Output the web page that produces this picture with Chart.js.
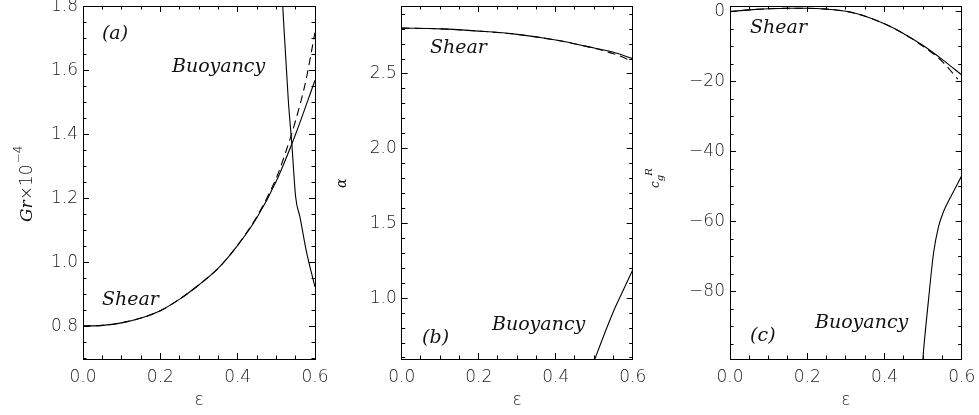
<!DOCTYPE html>
<html>
<head>
<meta charset="utf-8">
<script src="https://cdn.jsdelivr.net/npm/chart.js@4.4.1/dist/chart.umd.min.js"></script>
<style>
  html, body { margin: 0; padding: 0; background: #fff; overflow: hidden; }
  body { width: 979px; height: 415px; position: relative; }
  .panel { position: absolute; top: -20px; }
  .ytitle { position: absolute; transform-origin: 0 0; transform: rotate(-90deg); white-space: nowrap; color: #111; }
  .ytitle i { font-family: 'DejaVu Serif', serif; }
  .ytitle .up { font-size: 12px; position: relative; top: -10px; margin-left: 1px; }
  #status { position: absolute; left: 0; top: 0; width: 2px; height: 2px; margin: 0; font: 1px monospace; color: #fff; background: rgba(255,255,255,0.9); white-space: pre; overflow: hidden; z-index: 5; }
</style>
</head>
<body>
<div class="panel" style="left:0px"><canvas id="panelA" width="345" height="435"></canvas></div>
<div class="panel" style="left:325px"><canvas id="panelB" width="338" height="435"></canvas></div>
<div class="panel" style="left:640px"><canvas id="panelC" width="352" height="435"></canvas></div>
<pre id="status"></pre>
<script>
// (a) Gr x 1e-4 against epsilon
const epsShearA = [0, 0.05, 0.1, 0.15, 0.2, 0.25, 0.3, 0.35, 0.4, 0.45, 0.5, 0.55, 0.6];
const grShear = [0.803, 0.805, 0.813, 0.828, 0.851, 0.887, 0.932, 0.984, 1.055, 1.142, 1.256, 1.403, 1.571];
const epsDashA = [0, 0.05, 0.1, 0.15, 0.2, 0.25, 0.3, 0.35, 0.4, 0.45, 0.5, 0.525, 0.55, 0.575, 0.6];
const grShearDash = [0.803, 0.805, 0.813, 0.828, 0.851, 0.887, 0.932, 0.984, 1.056, 1.146, 1.266, 1.349, 1.446, 1.562, 1.72];
const epsBuoyA = [0.5165, 0.531, 0.54, 0.55, 0.561, 0.578, 0.6];
const grBuoy = [1.803, 1.508, 1.373, 1.206, 1.144, 1.035, 0.925];

// (b) alpha against epsilon
const epsShearB = [0, 0.1, 0.2, 0.3, 0.4, 0.5, 0.55, 0.6];
const alphaShear = [2.807, 2.802, 2.787, 2.765, 2.727, 2.674, 2.645, 2.603];
const alphaShearDash = [2.807, 2.802, 2.787, 2.765, 2.727, 2.672, 2.636, 2.585];
const epsBuoyB = [0.5018, 0.524, 0.55, 0.576, 0.6];
const alphaBuoy = [0.593, 0.744, 0.911, 1.056, 1.189];

// (c) group velocity against epsilon
const epsShearC = [0, 0.05, 0.1, 0.15, 0.2, 0.25, 0.3, 0.35, 0.4, 0.45, 0.5, 0.55, 0.6];
const cgShear = [0, 0.5, 0.8, 0.95, 0.95, 0.7, 0.1, -1.3, -3.5, -6.3, -9.7, -13.7, -18.1];
const epsDashC = [0, 0.05, 0.1, 0.15, 0.2, 0.25, 0.3, 0.35, 0.4, 0.45, 0.5, 0.55, 0.59];
const cgShearDash = [0, 0.5, 0.8, 0.95, 0.95, 0.7, 0.1, -1.3, -3.5, -6.3, -9.9, -14.3, -19.3];
const epsBuoyC = [0.4996, 0.501, 0.514, 0.527, 0.54, 0.553, 0.574, 0.6];
const cgBuoy = [-99.2, -97.1, -82.4, -69.0, -61.4, -57.1, -52.4, -46.9];

// tick labels
const epsTicks = [0, 0.2, 0.4, 0.6];
const grTicks = [0.8, 1.0, 1.2, 1.4, 1.6, 1.8];
const alphaTicks = [1.0, 1.5, 2.0, 2.5];
const cgTicks = [-80, -60, -40, -20, 0];

const TICK_FONT = { family: "'DejaVu Sans'", size: 17, weight: 300 };
const NOTE_FONT = "italic 19px 'DejaVu Serif'";
const MAJOR = 6, MINOR = 3.5;

function pts(xs, ys) {
  return xs.map((x, i) => ({ x: x, y: ys[i] }));
}

function line(data, dashed) {
  return {
    data: data,
    borderColor: '#000',
    borderWidth: 1.1,
    borderDash: dashed ? [8, 5] : [],
    pointRadius: 0,
    fill: false,
    tension: 0.4,
    cubicInterpolationMode: 'monotone'
  };
}

// one side of the frame, ticks pointing inwards; vals = null gives minor ticks
function side(pos, min, max, vals, minorStep, opts) {
  const horiz = pos === 'top' || pos === 'bottom';
  const minor = !vals;
  return {
    type: 'linear',
    position: pos,
    min: min,
    max: max,
    weight: opts.weight || 0,
    afterFit: s => { if (horiz) s.height = opts.size || 0; else s.width = opts.size || 0; },
    afterBuildTicks: s => {
      if (minor) {
        const t = [];
        const start = Math.ceil(min / minorStep - 1e-6);
        for (let k = start; k * minorStep <= max + 1e-9; k++) t.push({ value: k * minorStep });
        s.ticks = t;
      } else {
        s.ticks = vals.map(v => ({ value: v }));
      }
    },
    grid: {
      drawOnChartArea: false,
      drawTicks: true,
      tickLength: -(minor ? MINOR : MAJOR),
      tickColor: '#000',
      tickWidth: 1
    },
    border: { display: !minor, color: '#000', width: 1 },
    ticks: {
      display: !!opts.labels,
      autoSkip: false,
      maxRotation: 0,
      padding: opts.pad || 0,
      font: TICK_FONT,
      color: '#222',
      callback: opts.fmt || (v => v)
    },
    title: opts.title || { display: false }
  };
}

function panel(id, cfg) {
  const notes = {
    id: 'notes',
    afterDraw(chart) {
      const ctx = chart.ctx;
      ctx.save();
      ctx.font = NOTE_FONT;
      ctx.fillStyle = '#111';
      cfg.notes.forEach(n => {
        ctx.fillText(n[0], chart.scales.x.getPixelForValue(n[1]), chart.scales.y.getPixelForValue(n[2]));
      });
      ctx.restore();
    }
  };
  const canvas = document.getElementById(id);
  const W = canvas.width;
  const xl = cfg.xRange[0], xh = cfg.xRange[1], yl = cfg.yRange[0], yh = cfg.yRange[1];
  return new Chart(canvas, {
    type: 'line',
    data: { datasets: cfg.datasets },
    options: {
      responsive: false,
      animation: false,
      events: [],
      layout: { padding: { left: 0, right: W - cfg.right, top: 26, bottom: 0 } },
      plugins: { legend: { display: false }, tooltip: { enabled: false } },
      scales: {
        xm: side('bottom', xl, xh, null, 0.05, { weight: 0 }),
        x: side('bottom', xl, xh, epsTicks, 0, {
          weight: 1, size: 56, labels: true, pad: 14,
          fmt: v => v.toFixed(1),
          title: { display: true, text: 'ε', font: TICK_FONT, color: '#222', padding: { top: 0, bottom: 4 } }
        }),
        xt: side('top', xl, xh, epsTicks, 0, { weight: 1 }),
        xtm: side('top', xl, xh, null, 0.05, { weight: 0 }),
        ym: side('left', yl, yh, null, cfg.yMinor, { weight: 0 }),
        y: side('left', yl, yh, cfg.yTicks, 0, { weight: 1, size: cfg.left, labels: true, pad: 11, fmt: cfg.yFmt }),
        yr: side('right', yl, yh, cfg.yTicks, 0, { weight: 1 }),
        yrm: side('right', yl, yh, null, cfg.yMinor, { weight: 0 })
      }
    },
    plugins: [notes]
  });
}

const charts = [];
charts.push(panel('panelA', {
  left: 83, right: 315,
  xRange: [0, 0.6], yRange: [0.7, 1.803],
  yTicks: grTicks, yMinor: 0.05, yFmt: v => v.toFixed(1),
  datasets: [
    line(pts(epsShearA, grShear), false),
    line(pts(epsDashA, grShearDash), true),
    line(pts(epsBuoyA, grBuoy), false)
  ],
  notes: [['(a)', 0.049, 1.699], ['Buoyancy', 0.23, 1.596], ['Shear', 0.049, 0.868]]
}));

charts.push(panel('panelB', {
  left: 76.7, right: 307.7,
  xRange: [0, 0.6], yRange: [0.593, 2.955],
  yTicks: alphaTicks, yMinor: 0.1, yFmt: v => v.toFixed(1),
  datasets: [
    line(pts(epsShearB, alphaShear), false),
    line(pts(epsShearB, alphaShearDash), true),
    line(pts(epsBuoyB, alphaBuoy), false)
  ],
  notes: [['Shear', 0.0735, 2.643], ['Buoyancy', 0.2345, 0.788], ['(b)', 0.053, 0.7]]
}));

charts.push(panel('panelC', {
  left: 90, right: 321.7,
  xRange: [0, 0.6], yRange: [-99.2, 1.6],
  yTicks: cgTicks, yMinor: 5, yFmt: v => (v < 0 ? '\u2212' + Math.abs(v) : String(v)),
  datasets: [
    line(pts(epsShearC, cgShear), false),
    line(pts(epsDashC, cgShearDash), true),
    line(pts(epsBuoyC, cgBuoy), false)
  ],
  notes: [['Shear', 0.052, -6.1], ['Buoyancy', 0.22, -90.4], ['(c)', 0.052, -94.1]]
}));

// vertical axis titles as rotated html text (reads bottom to top)
const yTitles = [
  { left: 17, top: 222, size: 17, html: "<i>Gr</i>×10<span class='up'>−4</span>" },
  { left: 333, top: 188, size: 14, html: "<i>α</i>" },
  { left: 648, top: 188, size: 12, html: "<i>c</i><i style='font-size:10px;position:relative;top:4px'>g</i><i style='font-size:10px;position:relative;top:-7px;margin-left:-1px'>R</i>" }
];
yTitles.forEach(t => {
  const d = document.createElement('div');
  d.className = 'ytitle';
  d.style.left = t.left + 'px';
  d.style.top = t.top + 'px';
  d.style.font = '300 ' + t.size + "px 'DejaVu Sans'";
  d.style.lineHeight = (t.size + 2) + 'px';
  d.innerHTML = t.html;
  document.body.appendChild(d);
});

document.getElementById('status').textContent = charts.map(c => Object.keys(c.scales).length).join(' ');
</script>
</body>
</html>
